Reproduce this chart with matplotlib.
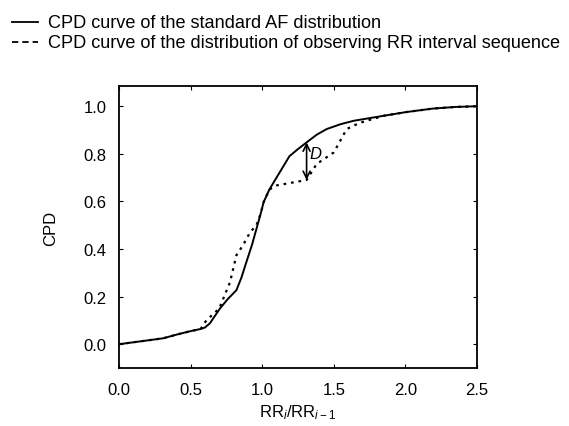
import matplotlib
matplotlib.use("Agg")
import matplotlib.pyplot as plt
from matplotlib.lines import Line2D

plt.rcParams["font.family"] = ["Liberation Sans", "DejaVu Sans"]
plt.rcParams["mathtext.fontset"] = "custom"
plt.rcParams["mathtext.rm"] = "Liberation Sans"
plt.rcParams["mathtext.it"] = "Liberation Sans:italic"

# standard AF distribution (solid)
std_x = [0.0, 0.1, 0.2, 0.31, 0.4, 0.5, 0.57, 0.6, 0.635, 0.705, 0.76, 0.82,
         0.855, 0.89, 0.93, 0.96, 0.99, 1.01, 1.05, 1.10, 1.15, 1.19, 1.25,
         1.31, 1.38, 1.45, 1.55, 1.64, 1.85, 2.0, 2.19, 2.35, 2.5]
std_y = [0.0, 0.008, 0.016, 0.025, 0.04, 0.055, 0.064, 0.07, 0.088, 0.15,
         0.19, 0.227, 0.28, 0.346, 0.42, 0.485, 0.55, 0.597, 0.65, 0.70,
         0.75, 0.79, 0.82, 0.848, 0.88, 0.904, 0.925, 0.939, 0.96, 0.975,
         0.99, 0.997, 1.0]

# observed RR interval sequence (dotted)
obs_x = [0.0, 0.1, 0.2, 0.31, 0.4, 0.5, 0.57, 0.61, 0.70, 0.775, 0.82, 0.87,
         0.915, 0.96, 0.99, 1.01, 1.05, 1.10, 1.2, 1.31, 1.38, 1.50, 1.59,
         1.68, 1.85, 2.0, 2.19, 2.35, 2.5]
obs_y = [0.0, 0.008, 0.016, 0.025, 0.04, 0.055, 0.064, 0.10, 0.15, 0.26,
         0.374, 0.42, 0.47, 0.50, 0.55, 0.597, 0.65, 0.667, 0.678, 0.69,
         0.757, 0.806, 0.904, 0.93, 0.96, 0.975, 0.99, 0.997, 1.0]

d_x = 1.31
d_top, d_bot = 0.848, 0.69

legend_labels = ["CPD curve of the standard AF distribution",
                 "CPD curve of the distribution of observing RR interval sequence"]

W, H = 569, 427
fig = plt.figure(figsize=(W / 100, H / 100), dpi=100)
ax = fig.add_axes([119 / W, 1 - 369 / H, 358 / W, 282 / H])

ax.plot(std_x, std_y, color="black", linewidth=1.4)
ax.plot(obs_x, obs_y, color="black", linewidth=1.6, linestyle=(0, (1.2, 2.2)))

# distance D between the two curves
ax.annotate("", xy=(d_x, d_bot), xytext=(d_x, d_top),
            arrowprops=dict(arrowstyle="<->,head_length=0.5,head_width=0.25",
                            color="black", lw=1.2, shrinkA=0, shrinkB=0))
ax.text(d_x + 0.02, 0.80, "D", fontsize=12, fontstyle="italic", va="center")

ax.set_xlim(0, 2.5)
ax.set_ylim(-0.1, 1.085)
ax.set_xticks([0.0, 0.5, 1.0, 1.5, 2.0, 2.5])
ax.set_yticks([0.0, 0.2, 0.4, 0.6, 0.8, 1.0])
ax.tick_params(direction="in", top=True, right=True, labelsize=12, length=3)
ax.tick_params(axis="x", pad=10)
ax.tick_params(axis="y", pad=9)
for s in ax.spines.values():
    s.set_linewidth(1.3)
ax.set_xlabel(r"RR$_{i}$/RR$_{i-1}$", fontsize=12, labelpad=4)
ax.set_ylabel("CPD", fontsize=12, labelpad=18)

# legend drawn by hand at the top left
styles = ["-", (0, (3.5, 2.2))]
rows_y = [23, 43]
for label, ls, yy in zip(legend_labels, styles, rows_y):
    fig.add_artist(Line2D([12 / W, 38 / W], [1 - yy / H, 1 - yy / H],
                          color="black", linewidth=1.3, linestyle=ls))
    fig.text(48 / W, 1 - yy / H, label, fontsize=13.1, va="center", ha="left")

fig.savefig("out.png", dpi=100)
